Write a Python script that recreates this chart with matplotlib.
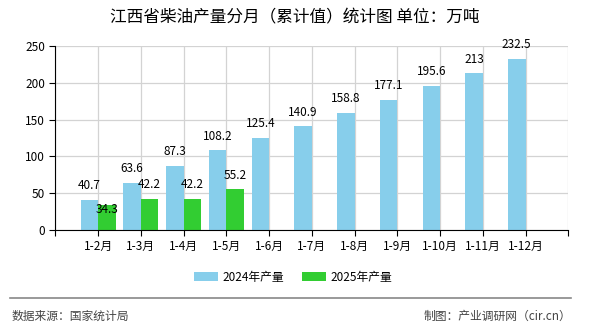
import numpy as np
import matplotlib
matplotlib.use('Agg')
import matplotlib.pyplot as plt
from matplotlib.lines import Line2D

plt.rcParams['font.family'] = ['Noto Sans CJK SC', 'DejaVu Sans']

# datos
meses = ['1-2月', '1-3月', '1-4月', '1-5月', '1-6月', '1-7月', '1-8月',
         '1-9月', '1-10月', '1-11月', '1-12月']
prod_2024 = [40.7, 63.6, 87.3, 108.2, 125.4, 140.9, 158.8, 177.1, 195.6, 213, 232.5]
prod_2025 = [34.3, 42.2, 42.2, 55.2]
y_ticks = [0, 50, 100, 150, 200, 250]

azul = '#87CEEB'
verde = '#32CD32'

fig = plt.figure(figsize=(5.9, 3.3), dpi=100)
ax = fig.add_axes([0.0937, 0.304, 0.8695, 0.556])

x = np.arange(1, len(meses) + 1)
w = 0.41
b1 = ax.bar(x - w / 2, prod_2024, w, color=azul, label='2024年产量', zorder=2)
b2 = ax.bar(x[:len(prod_2025)] + w / 2, prod_2025, w, color=verde,
            label='2025年产量', zorder=2)

# etiquetas
for r, v in zip(b1, prod_2024):
    ax.annotate('%g' % v, (r.get_x() + r.get_width() / 2, v), xytext=(0, 5.5),
                textcoords='offset points', ha='center', va='bottom', fontsize=8.5)
for i, (r, v) in enumerate(zip(b2, prod_2025)):
    dy = -8 if i == 0 else 5.5   # la primera se baja para no chocar
    ax.annotate('%g' % v, (r.get_x() + r.get_width() / 2, v), xytext=(0, dy),
                textcoords='offset points', ha='center', va='bottom', fontsize=8.5)

ax.set_xlim(0, len(meses) + 1)
ax.set_ylim(0, 250)
ax.set_yticks(y_ticks)
ax.set_xticks(np.arange(0, len(meses) + 2))
ax.set_xticklabels([''] + meses + [''])
ax.tick_params(labelsize=8.5, length=4, color='black')
ax.grid(color='#d3d3d3', linewidth=0.9, zorder=0)
for s in ['top', 'right']:
    ax.spines[s].set_visible(False)
ax.spines['left'].set_color('black')
ax.spines['bottom'].set_color('black')

fig.text(0.5, 0.945, '江西省柴油产量分月（累计值）统计图 单位：万吨',
         ha='center', va='center', fontsize=12)

fig.legend(handles=[b1, b2], loc='center', bbox_to_anchor=(0.497, 0.16),
           ncol=2, frameon=False, fontsize=8.5, handlelength=2.0,
           handleheight=0.8, columnspacing=1.5, handletextpad=0.4)

fig.add_artist(Line2D([10 / 590, 571 / 590], [1 - 298 / 330] * 2,
                      color='#888888', linewidth=1.2))
fig.text(12 / 590, 1 - 316 / 330, '数据来源：国家统计局', ha='left', va='center',
         fontsize=8.5, color='#444444')
fig.text(571 / 590, 1 - 316 / 330, '制图：产业调研网（cir.cn）', ha='right',
         va='center', fontsize=8.5, color='#444444')

plt.savefig('out.png', dpi=100)
